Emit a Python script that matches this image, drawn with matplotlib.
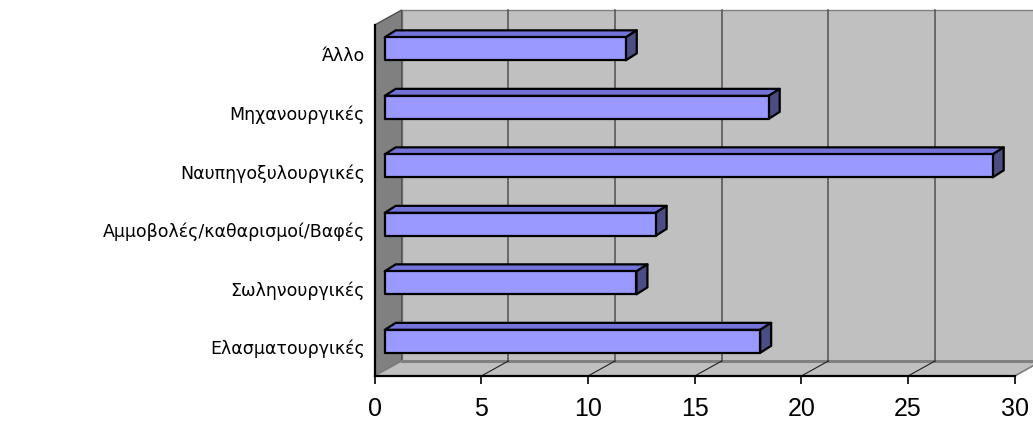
import matplotlib
matplotlib.use("Agg")
from matplotlib import pyplot as plt
from matplotlib.patches import Polygon

categories = ["Ελασματουργικές", "Σωληνουργικές", "Αμμοβολές/καθαρισμοί/Βαφές",
              "Ναυπηγοξυλουργικές", "Μηχανουργικές", "Άλλο"]
values = [17.6, 11.8, 12.7, 28.5, 18.0, 11.3]
x_ticks = [0, 5, 10, 15, 20, 25, 30]

W, H = 1033, 423
fig = plt.figure(figsize=(W / 100, H / 100), dpi=100)
# front plane of the 3d box, in pixels
left_px, right_px, top_px, bottom_px = 374.7, 1014.7, 25, 376
ax = fig.add_axes([left_px / W, (H - bottom_px) / H,
                   (right_px - left_px) / W, (bottom_px - top_px) / H])
xmax = 30
n = len(categories)
ax.set_xlim(0, xmax)
ax.set_ylim(0, n)

ux = (right_px - left_px) / xmax   # px per value unit
uy = (bottom_px - top_px) / n      # px per category

# depth of the box
dx, dy = 27 / ux, 15 / uy
# bar placement inside the depth
ox, oy = 10 / ux, 5.4 / uy
bdx, bdy = 11 / ux, 7 / uy
bh = 23 / uy

kw = dict(clip_on=False)
# back wall
ax.add_patch(Polygon([(dx, dy), (xmax + dx, dy), (xmax + dx, n + dy), (dx, n + dy)],
                     closed=True, fc="#C0C0C0", ec="#808080", lw=1, zorder=1, **kw))
# left wall
ax.add_patch(Polygon([(0, 0), (dx, dy), (dx, n + dy), (0, n)],
                     closed=True, fc="#808080", ec="#505050", lw=1, zorder=2, **kw))
# floor
ax.add_patch(Polygon([(0, 0), (xmax, 0), (xmax + dx, dy), (dx, dy)],
                     closed=True, fc="#C0C0C0", ec="#808080", lw=1, zorder=2, **kw))
ax.plot([dx, xmax + dx], [dy, dy], color="#808080", lw=2.2, zorder=3, **kw)

# grid lines on back wall and floor
for t in x_ticks[1:-1]:
    ax.plot([t + dx, t + dx], [dy, n + dy], color="#505050", lw=1.1, zorder=3, **kw)
    ax.plot([t, t + dx], [0, dy], color="#202020", lw=0.8, zorder=3, **kw)
ax.plot([xmax, xmax + dx], [0, dy], color="#808080", lw=1, zorder=3, **kw)

# front edges
ax.plot([0, 0], [0, n], color="black", lw=1.6, zorder=4, **kw)
ax.plot([0, xmax], [0, 0], color="black", lw=1.6, zorder=4, **kw)

# bars
for i, v in enumerate(values):
    y0 = i + 0.5 + oy - bh / 2
    x0 = ox
    front = [(x0, y0), (x0 + v, y0), (x0 + v, y0 + bh), (x0, y0 + bh)]
    top = [(x0, y0 + bh), (x0 + v, y0 + bh), (x0 + v + bdx, y0 + bh + bdy),
           (x0 + bdx, y0 + bh + bdy)]
    side = [(x0 + v, y0), (x0 + v + bdx, y0 + bdy), (x0 + v + bdx, y0 + bh + bdy),
            (x0 + v, y0 + bh)]
    ax.add_patch(Polygon(top, closed=True, fc="#7373D9", ec="black", lw=1.6,
                         joinstyle="round", zorder=5, **kw))
    ax.add_patch(Polygon(side, closed=True, fc="#4D4D85", ec="black", lw=1.6,
                         joinstyle="round", zorder=5, **kw))
    ax.add_patch(Polygon(front, closed=True, fc="#9999FF", ec="black", lw=1.6,
                         joinstyle="round", zorder=6, **kw))

for s in ax.spines.values():
    s.set_visible(False)
ax.set_facecolor("none")
ax.set_xticks(x_ticks)
ax.set_xticklabels([str(t) for t in x_ticks], fontsize=18, family="Liberation Sans")
ax.tick_params(axis="x", length=6, width=1.2, color="black", pad=9)
ax.set_yticks([i + 0.5 for i in range(n)])
ax.set_yticklabels(categories, fontsize=12.5, family="DejaVu Sans")
ax.tick_params(axis="y", length=0, pad=7)

fig.savefig("out.png", dpi=100)
